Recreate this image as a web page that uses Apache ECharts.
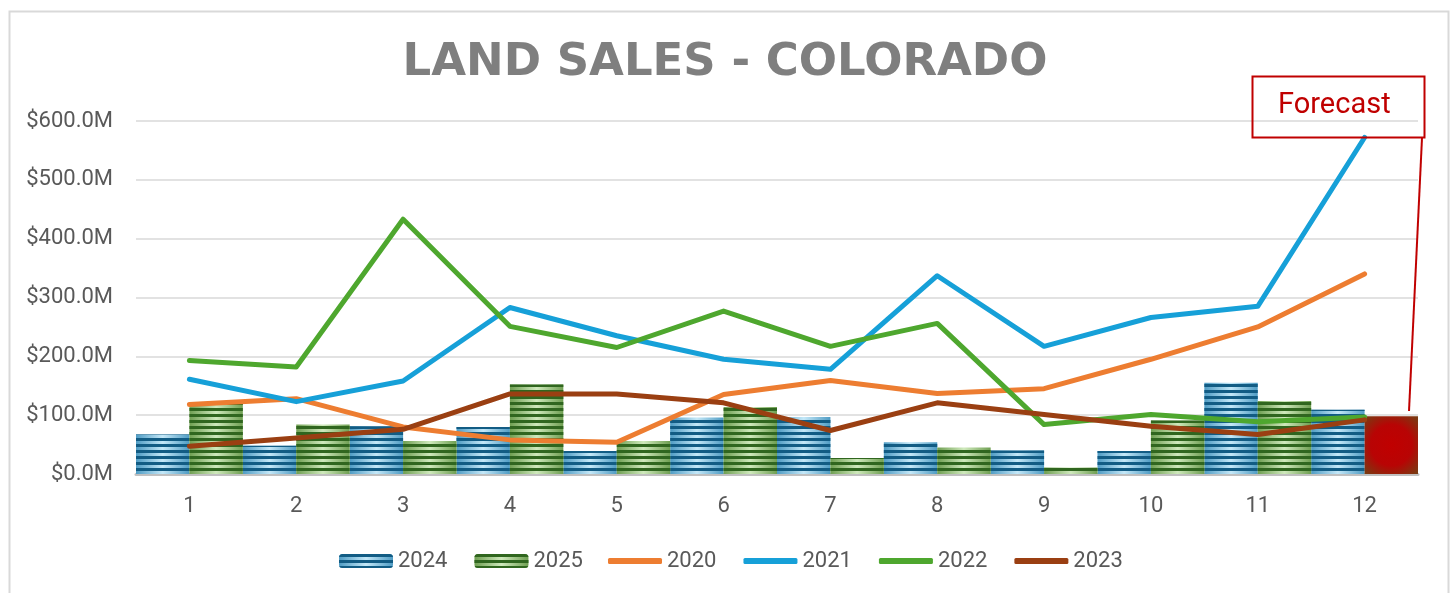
<!DOCTYPE html>
<html>
<head>
<meta charset="utf-8">
<script src="https://cdn.jsdelivr.net/npm/echarts@6/dist/echarts.min.js"></script>
<style>
  html, body { margin: 0; padding: 0; background: #ffffff; }
  #chart { width: 1450px; height: 593px; }
</style>
</head>
<body>
<div id="chart"></div>
<script>
// ---- data (values in $M) ----
const categories = ['1','2','3','4','5','6','7','8','9','10','11','12'];
const yTicks = [0, 100, 200, 300, 400, 500, 600];
const sales2024 = [67, 48, 81, 80, 39, 96, 97, 54, 40, 39, 155, 109];
const sales2025 = [122, 84, 56, 152, 56, 114, 27, 45, 11, 91, 124, '-'];
const forecast2025 = ['-', '-', '-', '-', '-', '-', '-', '-', '-', '-', '-', 98];
const sales2020 = [118, 128, 80, 58, 54, 135, 159, 137, 145, 195, 250, 340];
const sales2021 = [161, 123, 158, 283, 235, 195, 178, 337, 217, 266, 285, 572];
const sales2022 = [193, 182, 433, 251, 215, 277, 217, 256, 84, 101, 89, 97];
const sales2023 = [47, 61, 76, 136, 136, 121, 74, 121, 101, 81, 67, 92];

const chart = echarts.init(document.getElementById('chart'), null, { renderer: 'canvas' });

const labelFont = 'Roboto, "Liberation Sans", Arial, sans-serif';

function hGrad(edge, mid) {
  return new echarts.graphic.LinearGradient(0, 0, 1, 0, [
    { offset: 0, color: edge },
    { offset: 0.5, color: mid },
    { offset: 1, color: edge }
  ]);
}
function stripes(color) {
  return { symbol: 'rect', symbolSize: 1, dashArrayX: [1, 0], dashArrayY: [2.6, 2.7], rotation: 0, color: color };
}

const lineSeries = (name, data, color) => ({
  name: name, type: 'line', data: data, symbol: 'none', z: 5,
  lineStyle: { color: color, width: 5, cap: 'round', join: 'round' },
  itemStyle: { color: color }
});

const legendText = { color: '#595959', fontFamily: labelFont, fontSize: 22 };

chart.setOption({
  animation: false,
  backgroundColor: '#ffffff',
  title: {
    text: 'LAND SALES - COLORADO',
    left: 'center', top: 36,
    textStyle: { fontFamily: '"DejaVu Sans", sans-serif', fontWeight: 'bold', fontSize: 45, color: '#7f7f7f' }
  },
  grid: { left: 136, right: 32, top: 121, bottom: 119 },
  xAxis: {
    type: 'category', data: categories, boundaryGap: true,
    axisLine: { show: true, lineStyle: { color: '#c0c0c0', width: 3 } },
    axisTick: { show: false },
    axisLabel: { color: '#595959', fontFamily: labelFont, fontSize: 22, margin: 21 }
  },
  yAxis: {
    type: 'value', min: yTicks[0], max: yTicks[yTicks.length - 1], interval: 100,
    axisLine: { show: false }, axisTick: { show: false },
    splitLine: { lineStyle: { color: '#d9d9d9', width: 1.5 } },
    axisLabel: {
      color: '#595959', fontFamily: labelFont, fontSize: 22, margin: 23,
      formatter: v => '$' + v.toFixed(1) + 'M'
    }
  },
  legend: [
    {
      data: ['2024', '2025'],
      left: 334, top: 545,
      itemWidth: 54, itemHeight: 14, itemGap: 27, itemStyle: { borderWidth: 0 },
      textStyle: legendText
    },
    {
      data: ['2020', '2021', '2022', '2023'],
      left: 603, top: 545,
      icon: 'roundRect',
      itemWidth: 54, itemHeight: 6, itemGap: 27,
      textStyle: legendText
    }
  ],
  series: [
    {
      name: '2024', type: 'bar', data: sales2024, barGap: '0%', barCategoryGap: '0%', z: 2,
      itemStyle: { color: hGrad('#4f9cc4', '#c4e8f8'), decal: stripes('#125c84') }
    },
    {
      name: '2025', type: 'bar', data: sales2025, stack: 's25', barGap: '0%', barCategoryGap: '0%', z: 2,
      itemStyle: { color: hGrad('#6f9f52', '#cfe9bc'), decal: stripes('#30661f') }
    },
    {
      name: 'Forecast 2025', type: 'bar', data: forecast2025, stack: 's25', barGap: '0%', barCategoryGap: '0%', z: 2,
      itemStyle: {
        color: new echarts.graphic.RadialGradient(0.5, 0.5, 0.7, [
          { offset: 0, color: '#c00000' },
          { offset: 0.55, color: '#b80404' },
          { offset: 1, color: '#7a3a12' }
        ])
      }
    },
    lineSeries('2020', sales2020, '#ed7d31'),
    lineSeries('2021', sales2021, '#16a0d8'),
    lineSeries('2022', sales2022, '#4ea72e'),
    lineSeries('2023', sales2023, '#9a3f12')
  ],
  graphic: [
    {
      type: 'rect', left: 7, top: 9, z: 0, silent: true,
      shape: { width: 1439, height: 600 },
      style: { fill: 'none', stroke: '#d9d9d9', lineWidth: 2 }
    },
    {
      type: 'rect', left: 1250, top: 74, z: 10, silent: true,
      shape: { width: 172, height: 61 },
      style: { fill: 'none', stroke: '#c00000', lineWidth: 2 }
    },
    {
      type: 'text', left: 1278, top: 91, z: 10, silent: true,
      style: { text: 'Forecast', fill: '#c00000', font: '29px ' + labelFont }
    },
    {
      type: 'line', z: 10, silent: true,
      shape: { x1: 1422, y1: 138, x2: 1409, y2: 411 },
      style: { stroke: '#c00000', lineWidth: 2 }
    }
  ]
});
</script>
</body>
</html>
